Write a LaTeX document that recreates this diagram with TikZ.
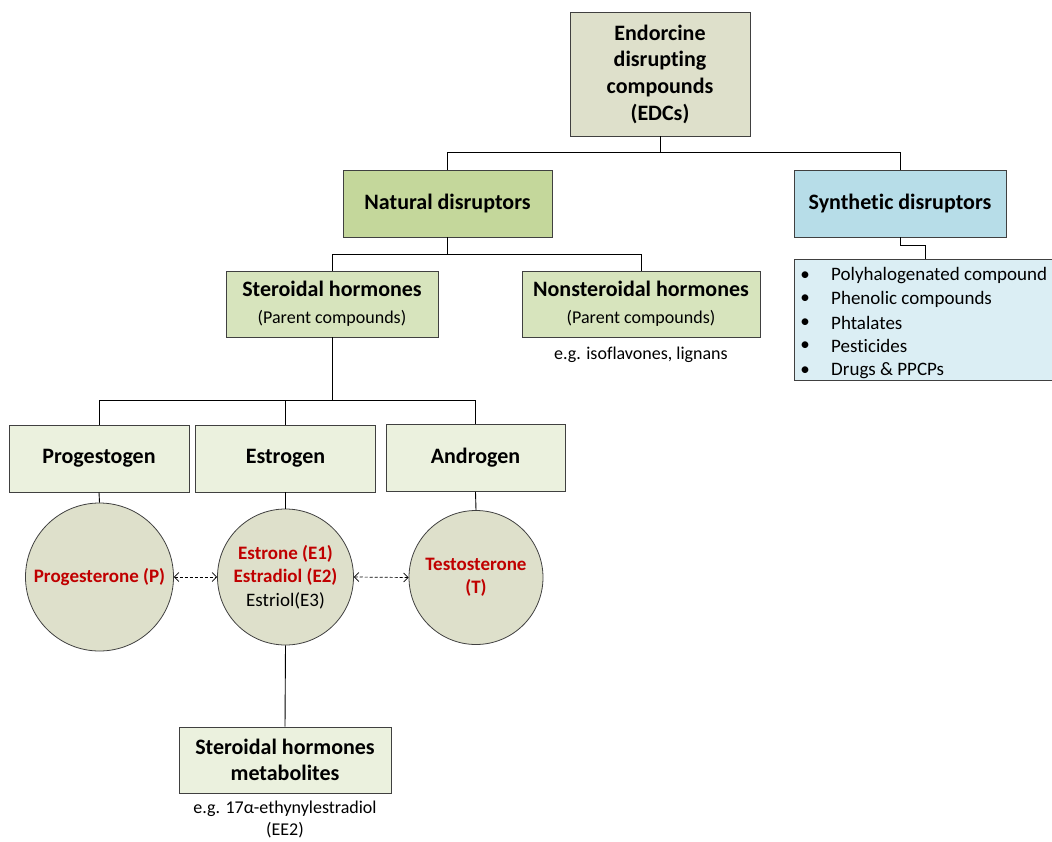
\documentclass[tikz,border=0pt]{standalone}
\usepackage{fontspec}
\setmainfont{Carlito}[Ligatures={NoCommon,NoRare,NoContextual},RawFeature={-calt}]
\usetikzlibrary{arrows.meta}
\newcommand{\nolig}{\kern0pt\relax}
\definecolor{topfill}{HTML}{DEE0CB}
\definecolor{natfill}{HTML}{C4D79B}
\definecolor{synfill}{HTML}{B7DDE8}
\definecolor{listfill}{HTML}{DBEEF4}
\definecolor{sterfill}{HTML}{D7E4BD}
\definecolor{lightfill}{HTML}{EBF1DE}
\definecolor{redtxt}{HTML}{C00000}
\definecolor{bordercol}{HTML}{404040}
\tikzset{
  box/.style={rectangle, draw=bordercol, line width=0.8pt, inner sep=0pt, align=center,
    font=\fontsize{22}{26.7}\selectfont\bfseries},
  circ/.style={circle, draw=bordercol, line width=0.8pt, fill=topfill, inner sep=0pt},
  circtext/.style={inner sep=0pt, align=center,
    font=\fontsize{19}{23.3}\selectfont\bfseries, text=redtxt},
  link/.style={draw=black, line width=0.9pt},
  dash arrow/.style={draw=black, line width=0.7pt, dash pattern=on 3pt off 2pt,
    {Straight Barb[length=4.5pt,width=9pt]}-{Straight Barb[length=4.5pt,width=9pt]}},
  sub/.style={font=\fontsize{18}{22}\selectfont},
  item/.style={anchor=west, inner sep=0pt, font=\fontsize{19}{23}\selectfont},
  bul/.style={inner sep=0pt, font=\fontsize{19}{23}\selectfont},
}
\begin{document}
\begin{tikzpicture}[x=1pt,y=-1pt]
\useasboundingbox (0,0) rectangle (1052,841);
% boxes
\node[box, fill=topfill, minimum width=180, minimum height=124] (edc) at (660,74)
  {Endorcine\\disrupt\nolig ing\\compounds\\(EDCs)};
\node[box, fill=natfill, minimum width=209, minimum height=67] (nat) at (447.5,203.5) {Natural disruptors};
\node[box, fill=synfill, minimum width=212, minimum height=67] (syn) at (900,203.5) {Synthet\nolig ic disruptors};
\node[box, fill=sterfill, minimum width=212, minimum height=66] (ster) at (332,304)
  {Steroidal hormones\\[0pt]{\fontsize{18}{22}\selectfont\mdseries (Parent compounds)}};
\node[box, fill=sterfill, minimum width=238, minimum height=66] (nonster) at (641,304)
  {Nonsteroidal hormones\\[0pt]{\fontsize{18}{22}\selectfont\mdseries (Parent compounds)}};
\node[sub] (iso) at (641,355) {e.g. isof\nolig lavones, lignans};
% synthetic list
\draw[draw=bordercol, line width=0.8pt, fill=listfill] (794,259) rectangle (1070,380);
\coordinate (listtop) at (925,259);
\node[bul] (b1) at (805,276) {•};
\node[item] (i1) at (831,276) {Polyhalogenated compound};
\node[bul] (b2) at (805,299) {•};
\node[item] (i2) at (831,299) {Phenolic compounds};
\node[bul] (b3) at (805,323) {•};
\node[item] (i3) at (831,323) {Phtalates};
\node[bul] (b4) at (805,346) {•};
\node[item] (i4) at (831,346) {Pest\nolig icides};
\node[bul] (b5) at (805,371) {•};
\node[item] (i5) at (831,371) {Drugs \& PPCPs};
% hormone classes
\node[box, fill=lightfill, minimum width=180, minimum height=67] (prog) at (99,458.5) {Progestogen};
\node[box, fill=lightfill, minimum width=180, minimum height=67] (estr) at (285.5,458.5) {Estrogen};
\node[box, fill=lightfill, minimum width=179, minimum height=67] (andr) at (475.5,458) {Androgen};
% circles
\node[circ, minimum size=148] (P) at (99.5,577) {};
\node[circtext] (Pt) at (P.center) {Progesterone (P)};
\node[circ, minimum size=136] (E) at (285.5,577) {};
\node[circtext] (Et) at (E.center) {Estrone (E1)\\Estradiol (E2)\\{\mdseries\color{black}Estriol(E3)}};
\node[circ, minimum size=134] (T) at (476,577.5) {};
\node[circtext] (Tt) at (T.center) {Testosterone\\(T)};
% metabolites
\node[box, fill=lightfill, minimum width=212, minimum height=66] (meta) at (285,760)
  {Steroidal hormones\\metabolites};
\node[sub, align=center] (ee2) at (285,819) {e.g. 17α-ethynylestradiol\\(EE2)};
% connectors
\draw[link] (edc.south) -- (660,152) -| (nat.north);
\draw[link] (660,152) -| (syn.north);
\draw[link] (syn.south) -- (900,245) -| (listtop);
\draw[link] (nat.south) -- (447.5,254) -| (ster.north);
\draw[link] (447.5,254) -| (nonster.north);
\draw[link] (ster.south) -- (332,400) -| (prog.north);
\draw[link] (332,400) -| (estr.north);
\draw[link] (332,400) -| (andr.north);
\draw[link] (prog.south) -- (P.north);
\draw[link] (estr.south) -- (E.north);
\draw[link] (andr.south) -- (T.north);
\draw[link] (E.south) -- (meta.north);
\draw[dash arrow] (P.east) -- (E.west);
\draw[dash arrow] (E.east) -- (T.west);
\end{tikzpicture}
\end{document}
